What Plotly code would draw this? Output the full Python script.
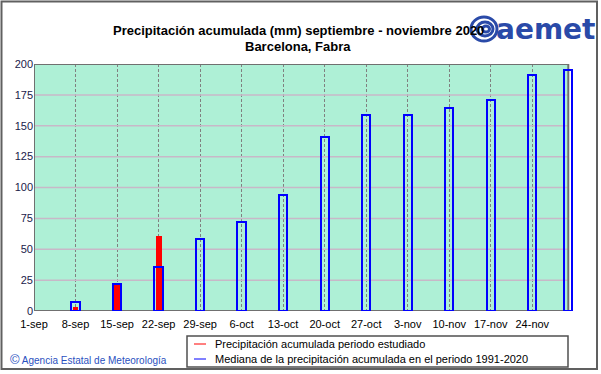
import plotly.graph_objects as go

# ---- data ----
tick_days = [0, 7, 14, 21, 28, 35, 42, 49, 56, 63, 70, 77, 84]
tick_labels = ["1-sep", "8-sep", "15-sep", "22-sep", "29-sep", "6-oct", "13-oct",
               "20-oct", "27-oct", "3-nov", "10-nov", "17-nov", "24-nov"]
median_days = [7, 14, 21, 28, 35, 42, 49, 56, 63, 70, 77, 84, 90]
median_values = [7, 22, 36, 58, 72, 94, 141, 159, 159, 164, 171, 191, 195]
observed_days = [7, 14, 21]
observed_values = [3, 23, 61]
y_ticks = [0, 25, 50, 75, 100, 125, 150, 175, 200]

FONT = "Liberation Sans, Arial, sans-serif"
X_END = 90.07   # right edge of the plotting frame (days)
X_MAX = 91.2    # axis range end (room for last bar overhang)

fig = go.Figure()
fig.add_trace(go.Bar(x=observed_days, y=observed_values, width=1.0,
                     marker=dict(color="#ff0000", line=dict(width=0)),
                     showlegend=False, name="Precipitación acumulada periodo estudiado"))
fig.add_trace(go.Bar(x=median_days, y=median_values, width=1.4,
                     marker=dict(color="rgba(0,0,0,0)", line=dict(color="#0000ff", width=2)),
                     showlegend=False,
                     name="Mediana de la precipitación acumulada en el periodo 1991-2020"))

W, H = 601, 374
L, T, B = 34, 64, 63
scale = (532 - 34) / 84.0
R = int(round(W - (L + X_MAX * scale)))
pw, ph = W - L - R, H - T - B

def px(x):
    return (x - L) / pw

def py(y):
    return (H - B - y) / ph

shapes = []
# plotting background
shapes.append(dict(type="rect", xref="x", yref="y", x0=0, x1=X_END, y0=0, y1=200,
                   line=dict(width=0), fillcolor="#aef0d6", layer="below"))
# horizontal grid lines
for v in y_ticks[1:-1]:
    shapes.append(dict(type="line", xref="x", yref="y", x0=0, x1=X_END, y0=v, y1=v,
                       line=dict(color="#c8b8c8", width=1.5), layer="between"))
# plot frame
shapes.append(dict(type="rect", xref="x", yref="y", x0=0, x1=X_END, y0=0, y1=200,
                   line=dict(color="#707070", width=2), fillcolor="rgba(0,0,0,0)", layer="between"))
# outer frame
shapes.append(dict(type="rect", xref="paper", yref="paper",
                   x0=px(1.5), x1=px(597), y0=py(1.5), y1=py(369),
                   line=dict(color="#606060", width=2), fillcolor="rgba(0,0,0,0)", layer="below"))
# legend box
shapes.append(dict(type="rect", xref="paper", yref="paper",
                   x0=px(187), x1=px(568), y0=py(336), y1=py(367),
                   line=dict(color="#505050", width=1.5), fillcolor="white"))
# legend lines
shapes.append(dict(type="line", xref="paper", yref="paper",
                   x0=px(194), x1=px(206), y0=py(344), y1=py(344),
                   line=dict(color="#ff0000", width=1)))
shapes.append(dict(type="line", xref="paper", yref="paper",
                   x0=px(194), x1=px(206), y0=py(359), y1=py(359),
                   line=dict(color="#0000ff", width=1)))
# logo swirl approximation
for (cx, cy, rx, ry) in [(484, 29, 13, 12), (485, 29, 8, 7), (486, 29, 3.5, 3)]:
    shapes.append(dict(type="circle", xref="paper", yref="paper",
                       x0=px(cx - rx), x1=px(cx + rx), y0=py(cy + ry), y1=py(cy - ry),
                       line=dict(color="#2a4aa8", width=3), fillcolor="rgba(0,0,0,0)"))

annotations = [
    dict(text="Precipitación acumulada periodo estudiado", xref="paper", yref="paper",
         x=px(213), y=py(344), xanchor="left", yanchor="middle", showarrow=False,
         font=dict(family=FONT, size=11, color="#000000")),
    dict(text="Mediana de la precipitación acumulada en el periodo 1991-2020", xref="paper", yref="paper",
         x=px(213), y=py(359), xanchor="left", yanchor="middle", showarrow=False,
         font=dict(family=FONT, size=11, color="#000000")),
    dict(text="<span style='font-size:13px'>©</span> Agencia Estatal de Meteorología", xref="paper", yref="paper",
         x=px(8), y=py(359), xanchor="left", yanchor="middle", showarrow=False,
         font=dict(family=FONT, size=10, color="#2a50c0")),
    dict(text="<b>aemet</b>", xref="paper", yref="paper",
         x=px(597), y=py(29), xanchor="right", yanchor="middle", showarrow=False,
         font=dict(family="DejaVu Sans, Arial, sans-serif", size=28, color="#2a4aa8")),
    dict(text="<b>Precipitación acumulada (mm) septiembre - noviembre 2020</b>", xref="paper", yref="paper",
         x=px(298), y=py(30), xanchor="center", yanchor="middle", showarrow=False,
         font=dict(family=FONT, size=13, color="#000000")),
    dict(text="<b>Barcelona, Fabra</b>", xref="paper", yref="paper",
         x=px(298), y=py(47), xanchor="center", yanchor="middle", showarrow=False,
         font=dict(family=FONT, size=13, color="#000000")),
]

fig.update_layout(
    width=W, height=H,
    margin=dict(l=L, r=R, t=T, b=B),
    paper_bgcolor="white",
    plot_bgcolor="rgba(0,0,0,0)",
    barmode="overlay",
    bargap=0,
    shapes=shapes,
    annotations=annotations,
    showlegend=False,
    font=dict(family=FONT, size=11, color="#1a1a3a"),
)
fig.update_xaxes(range=[0, X_MAX], tickmode="array", tickvals=tick_days, ticktext=tick_labels,
                 showgrid=True, gridcolor="#808080", griddash="3px,2px", gridwidth=1,
                 showline=False, ticks="", zeroline=False, ticklabelstandoff=5,
                 tickfont=dict(size=11, color="#000000"))
fig.update_yaxes(range=[0, 200], tickmode="array", tickvals=y_ticks,
                 showgrid=False, showline=False, ticks="", zeroline=False,
                 tickfont=dict(size=11, color="#1a1a4a"))

fig.write_html("out.html", config={"displayModeBar": False},
               post_script="document.body.style.margin='0';document.body.style.overflow='hidden';")
